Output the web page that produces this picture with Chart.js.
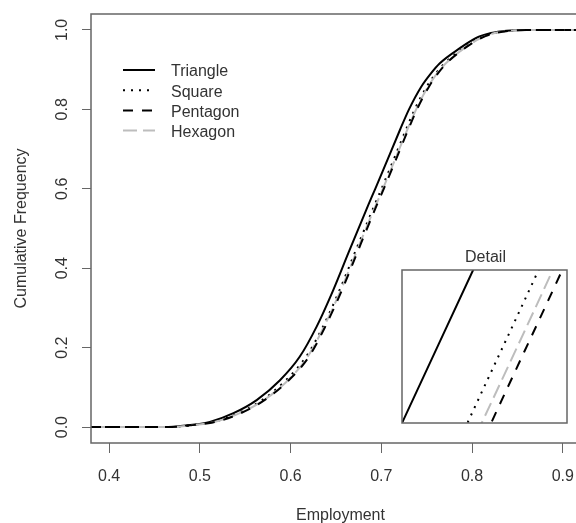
<!DOCTYPE html>
<html><head><meta charset="utf-8">
<script src="https://cdn.jsdelivr.net/npm/chart.js@4.4.1/dist/chart.umd.min.js"></script>
<style>
html,body{margin:0;padding:0;background:#fff;overflow:hidden;width:576px;height:523px;}
#main{position:absolute;left:0;top:0;width:600px;height:523px;}
#inset{position:absolute;left:380px;top:235px;width:196px;height:195px;}
canvas{display:block;}
</style></head><body>
<div id="main"><canvas id="c1" width="600" height="523"></canvas></div>
<div id="inset"><canvas id="c2" width="196" height="195"></canvas></div>
<script>
// ---- data ----
const seriesNames = ['Triangle', 'Square', 'Pentagon', 'Hexagon'];
// cumulative frequency levels shared by all series
const cumFreq = [0, 0, 0.005, 0.013, 0.035, 0.068, 0.118, 0.177, 0.253, 0.345, 0.438, 0.547, 0.56, 0.60, 0.647, 0.748, 0.80, 0.857, 0.89, 0.916, 0.954, 0.979, 0.992, 0.998, 1, 1];
// employment value reached at each level
const triangleX = [0.380, 0.460, 0.488, 0.511, 0.537, 0.5626, 0.5883, 0.610, 0.6287, 0.647, 0.6636, 0.6834, 0.6858, 0.6933, 0.702, 0.7205, 0.7305, 0.7440, 0.7545, 0.7645, 0.7866, 0.804, 0.821, 0.838, 0.858, 0.930];
const squareX   = [0.380, 0.462, 0.491, 0.515, 0.542, 0.5686, 0.5948, 0.617, 0.6357, 0.654, 0.6706, 0.6903, 0.6927, 0.7002, 0.7088, 0.7270, 0.7368, 0.7500, 0.7600, 0.7698, 0.7906, 0.808, 0.824, 0.840, 0.863, 0.930];
const pentagonX = [0.380, 0.463, 0.492, 0.517, 0.545, 0.5712, 0.5980, 0.6202, 0.6382, 0.6566, 0.6732, 0.6928, 0.6952, 0.7027, 0.7113, 0.7295, 0.7393, 0.7525, 0.7622, 0.7718, 0.7920, 0.8095, 0.8255, 0.8425, 0.865, 0.930];
const hexagonX  = [0.380, 0.463, 0.492, 0.516, 0.544, 0.5706, 0.5972, 0.6188, 0.6368, 0.6554, 0.6720, 0.6917, 0.6942, 0.7017, 0.7103, 0.7285, 0.7384, 0.7515, 0.7613, 0.7712, 0.7915, 0.809, 0.825, 0.842, 0.865, 0.930];
const xTicks = [0.4, 0.5, 0.6, 0.7, 0.8, 0.9];
const xTickLabels = ['0.4', '0.5', '0.6', '0.7', '0.8', '0.9'];
const yTicks = [0, 0.2, 0.4, 0.6, 0.8, 1.0];
const yTickLabels = ['0.0', '0.2', '0.4', '0.6', '0.8', '1.0'];
const xRange = [0.38, 0.93];
const yRange = [-0.04, 1.04];
const detailXRange = [0.6858, 0.7032];
const detailYRange = [0.56, 0.60];

// ---- styles ----
const FONT = "'Liberation Sans', Arial, Helvetica, sans-serif";
const TXT = '#333';
const seriesX = [triangleX, squareX, pentagonX, hexagonX];
const styles = [
  {color: '#000000', dash: []},
  {color: '#000000', dash: [2, 6]},
  {color: '#000000', dash: [10, 9]},
  {color: '#bdbdbd', dash: [14, 6]}
];
function makeDatasets(width) {
  return seriesNames.map((name, i) => ({
    label: name,
    data: seriesX[i].map((x, k) => ({x: x, y: cumFreq[k]})),
    borderColor: styles[i].color,
    borderDash: styles[i].dash,
    borderWidth: width,
    pointRadius: 0,
    cubicInterpolationMode: 'monotone',
    fill: false,
    order: [4, 3, 1, 2][i]
  }));
}

const mainPlugin = {
  id: 'rstyle',
  afterDraw(chart) {
    const {ctx, chartArea: a, scales} = chart;
    ctx.save();
    // box
    ctx.strokeStyle = '#666';
    ctx.lineWidth = 1.5;
    ctx.strokeRect(a.left, a.top, a.right - a.left, a.bottom - a.top);
    // rotated y tick labels
    ctx.fillStyle = TXT;
    ctx.font = '16px ' + FONT;
    ctx.textAlign = 'center';
    ctx.textBaseline = 'middle';
    yTicks.forEach((v, i) => {
      const py = scales.y.getPixelForValue(v);
      ctx.save();
      ctx.translate(63, py);
      ctx.rotate(-Math.PI / 2);
      ctx.fillText(yTickLabels[i], 0, 0);
      ctx.restore();
    });
    // legend
    const lx0 = 123, lx1 = 155, tx = 171, ly0 = 70, dy = 20.2;
    chart.data.datasets.forEach((ds, i) => {
      const y = ly0 + i * dy;
      ctx.beginPath();
      ctx.setLineDash(ds.borderDash);
      ctx.strokeStyle = ds.borderColor;
      ctx.lineWidth = 2;
      ctx.moveTo(lx0, y);
      ctx.lineTo(lx1, y);
      ctx.stroke();
      ctx.setLineDash([]);
      ctx.textAlign = 'left';
      ctx.fillStyle = TXT;
      ctx.fillText(ds.label, tx, y + 2);
    });
    ctx.restore();
  }
};

new Chart(document.getElementById('c1'), {
  type: 'line',
  data: {datasets: makeDatasets(2)},
  plugins: [mainPlugin],
  options: {
    responsive: false,
    animation: false,
    events: [],
    layout: {padding: {left: 0, top: 14, right: 10, bottom: 0}},
    plugins: {legend: {display: false}, tooltip: {enabled: false}, title: {display: false}},
    scales: {
      x: {
        type: 'linear', min: xRange[0], max: xRange[1],
        afterBuildTicks: s => { s.ticks = xTicks.map(v => ({value: v})); },
        afterFit: s => { s.height = 80; },
        ticks: {
          callback: (v, i) => xTickLabels[i],
          color: TXT, font: {family: FONT, size: 16}, padding: 14, maxRotation: 0, minRotation: 0
        },
        grid: {display: true, drawOnChartArea: false, drawTicks: true, tickLength: 10, color: '#666', lineWidth: 1},
        border: {display: false},
        title: {display: true, text: 'Employment', color: TXT, font: {family: FONT, size: 16, lineHeight: 1}, padding: {top: 0, bottom: -1}}
      },
      y: {
        type: 'linear', min: yRange[0], max: yRange[1],
        afterBuildTicks: s => { s.ticks = yTicks.map(v => ({value: v})); },
        afterFit: s => { s.width = 91; },
        ticks: {display: false},
        grid: {display: true, drawOnChartArea: false, drawTicks: true, tickLength: 9, color: '#666', lineWidth: 1},
        border: {display: false},
        title: {display: true, text: 'Cumulative Frequency', color: TXT, font: {family: FONT, size: 16, lineHeight: 1}, padding: {top: 14, bottom: 0}}
      }
    }
  }
});

const insetPlugin = {
  id: 'detailbox',
  beforeDatasetsDraw(chart) {
    const {ctx, chartArea: a} = chart;
    ctx.save();
    ctx.fillStyle = '#fff';
    ctx.fillRect(a.left, a.top, a.right - a.left, a.bottom - a.top);
    ctx.restore();
  },
  afterDraw(chart) {
    const {ctx, chartArea: a} = chart;
    ctx.save();
    ctx.strokeStyle = '#666';
    ctx.lineWidth = 1.5;
    ctx.strokeRect(a.left, a.top, a.right - a.left, a.bottom - a.top);
    ctx.fillStyle = TXT;
    ctx.font = '16px ' + FONT;
    ctx.textAlign = 'center';
    ctx.textBaseline = 'alphabetic';
    ctx.fillText('Detail', (a.left + a.right) / 2 + 1, a.top - 8);
    ctx.restore();
  }
};

new Chart(document.getElementById('c2'), {
  type: 'line',
  data: {datasets: makeDatasets(2)},
  plugins: [insetPlugin],
  options: {
    responsive: false,
    animation: false,
    events: [],
    layout: {padding: {left: 22, top: 35, right: 9, bottom: 7}},
    plugins: {legend: {display: false}, tooltip: {enabled: false}, title: {display: false}},
    scales: {
      x: {type: 'linear', display: false, min: detailXRange[0], max: detailXRange[1]},
      y: {type: 'linear', display: false, min: detailYRange[0], max: detailYRange[1]}
    }
  }
});
</script>
</body></html>
